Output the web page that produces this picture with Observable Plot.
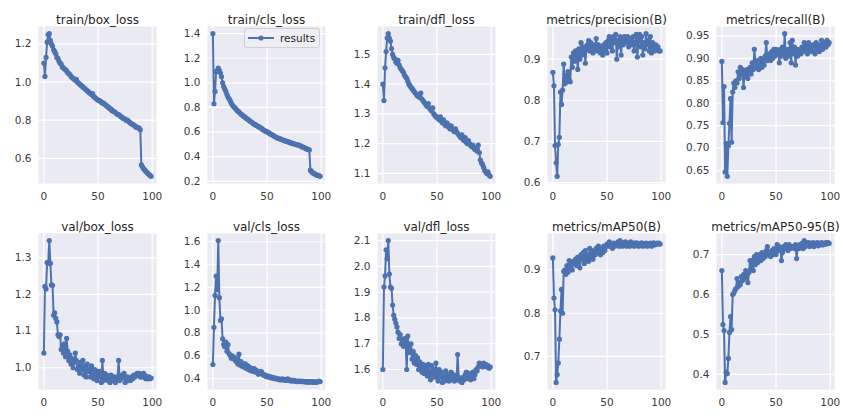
<!DOCTYPE html>
<html><head><meta charset="utf-8">
<script src="https://cdn.jsdelivr.net/npm/d3@7"></script>
<script src="https://cdn.jsdelivr.net/npm/@observablehq/plot@0.6"></script>
<style>
html,body{margin:0;padding:0;background:#fff;}
#chart{position:relative;width:843px;height:417px;overflow:hidden;font-family:"DejaVu Sans",sans-serif;}
#chart .cell{position:absolute;}
#chart .legend{position:absolute;box-sizing:border-box;background:rgba(238,238,245,0.85);border:1px solid #cfcfd6;border-radius:3px;display:flex;align-items:center;font-size:10.5px;color:#262626;}
</style></head><body><div id="chart"></div>
<script>
const titles = ["train/box_loss","train/cls_loss","train/dfl_loss","metrics/precision(B)","metrics/recall(B)",
  "val/box_loss","val/cls_loss","val/dfl_loss","metrics/mAP50(B)","metrics/mAP50-95(B)"];
const xTicks = [0, 50, 100];
const legendLabel = "results";

const trainBoxLoss = [1.10,1.03,1.13,1.21,1.25,1.255,1.22,1.20,1.19,1.17,
1.16,1.15,1.13,1.125,1.11,1.10,1.095,1.08,1.075,1.07,
1.065,1.06,1.05,1.045,1.04,1.03,1.025,1.02,1.015,1.01,
1.015,1.00,0.995,0.99,0.985,0.98,0.975,0.97,0.965,0.96,
0.955,0.95,0.945,0.94,0.935,0.94,0.925,0.92,0.915,0.91,
0.905,0.905,0.90,0.895,0.89,0.89,0.885,0.88,0.875,0.87,
0.868,0.86,0.858,0.85,0.848,0.845,0.84,0.835,0.83,0.83,
0.825,0.82,0.815,0.81,0.81,0.805,0.80,0.80,0.795,0.79,
0.785,0.78,0.778,0.775,0.77,0.765,0.762,0.76,0.758,0.75,
0.565,0.555,0.545,0.54,0.532,0.527,0.52,0.515,0.51,0.505];

const trainClsLoss = [1.40,0.83,0.93,1.09,1.10,1.12,1.10,1.08,1.05,1.00,
0.97,0.95,0.93,0.905,0.885,0.87,0.855,0.835,0.82,0.81,
0.80,0.79,0.78,0.77,0.765,0.755,0.745,0.74,0.73,0.725,
0.72,0.71,0.705,0.70,0.69,0.685,0.68,0.672,0.665,0.66,
0.655,0.65,0.645,0.64,0.635,0.63,0.62,0.615,0.61,0.605,
0.60,0.60,0.59,0.585,0.58,0.578,0.57,0.565,0.56,0.555,
0.55,0.548,0.545,0.54,0.537,0.535,0.53,0.528,0.525,0.522,
0.52,0.515,0.512,0.51,0.505,0.505,0.50,0.498,0.495,0.497,
0.49,0.488,0.48,0.478,0.475,0.47,0.465,0.462,0.46,0.455,
0.29,0.28,0.27,0.265,0.26,0.255,0.25,0.248,0.245,0.24];

const trainDflLoss = [1.40,1.345,1.455,1.51,1.555,1.57,1.555,1.545,1.52,1.50,
1.49,1.485,1.475,1.47,1.48,1.465,1.455,1.45,1.445,1.44,
1.43,1.425,1.42,1.41,1.40,1.395,1.39,1.385,1.38,1.375,
1.37,1.365,1.36,1.365,1.355,1.37,1.35,1.345,1.34,1.335,
1.33,1.325,1.335,1.32,1.315,1.31,1.32,1.30,1.295,1.29,
1.29,1.285,1.28,1.29,1.275,1.27,1.28,1.265,1.26,1.27,
1.265,1.255,1.25,1.26,1.25,1.245,1.24,1.25,1.24,1.235,
1.23,1.225,1.22,1.23,1.215,1.21,1.22,1.205,1.20,1.21,
1.20,1.195,1.19,1.195,1.185,1.18,1.185,1.175,1.195,1.17,
1.145,1.135,1.13,1.12,1.11,1.105,1.10,1.105,1.095,1.09];

const precision = [0.868,0.835,0.69,0.648,0.615,0.693,0.71,0.82,0.79,0.825,
0.888,0.84,0.86,0.845,0.87,0.85,0.845,0.905,0.88,0.915,
0.895,0.92,0.91,0.875,0.925,0.90,0.94,0.92,0.91,0.93,
0.89,0.925,0.935,0.945,0.92,0.94,0.93,0.915,0.935,0.925,
0.95,0.92,0.935,0.925,0.915,0.93,0.91,0.935,0.92,0.94,
0.915,0.945,0.955,0.93,0.945,0.92,0.955,0.94,0.96,0.90,
0.945,0.93,0.955,0.91,0.95,0.935,0.955,0.94,0.95,0.955,
0.93,0.95,0.945,0.935,0.955,0.92,0.94,0.96,0.905,0.95,
0.96,0.93,0.955,0.91,0.94,0.925,0.962,0.935,0.945,0.92,
0.955,0.915,0.94,0.93,0.92,0.935,0.925,0.93,0.92,0.92];

const recall = [0.893,0.757,0.837,0.647,0.71,0.637,0.705,0.755,0.81,0.713,
0.825,0.845,0.835,0.85,0.845,0.87,0.855,0.88,0.865,0.875,
0.835,0.87,0.86,0.875,0.855,0.87,0.88,0.865,0.89,0.875,
0.92,0.89,0.88,0.895,0.875,0.885,0.90,0.88,0.895,0.885,
0.905,0.935,0.895,0.90,0.91,0.895,0.915,0.90,0.92,0.905,
0.92,0.91,0.915,0.89,0.92,0.905,0.925,0.91,0.955,0.90,
0.915,0.92,0.905,0.935,0.89,0.94,0.91,0.925,0.885,0.92,
0.905,0.915,0.92,0.91,0.925,0.915,0.935,0.92,0.93,0.91,
0.935,0.92,0.925,0.915,0.93,0.925,0.91,0.935,0.92,0.93,
0.915,0.925,0.94,0.92,0.935,0.93,0.925,0.94,0.93,0.935];

const valBoxLoss = [1.04,1.222,1.215,1.287,1.285,1.347,1.285,1.226,1.225,1.143,
1.15,1.135,1.125,1.09,1.085,1.09,1.05,1.06,1.04,1.065,
1.03,1.08,1.045,1.02,1.035,1.01,1.025,1.00,1.015,1.04,
1.02,0.995,1.005,0.985,1.015,0.995,1.02,0.98,1.005,0.975,
1.01,0.99,0.995,0.975,1.005,0.98,0.97,0.995,0.98,0.965,
0.99,0.975,0.99,0.96,1.02,0.965,0.985,0.97,0.98,0.965,
0.975,0.96,0.98,0.97,0.965,0.975,0.96,0.97,0.975,1.02,
0.965,0.97,0.98,0.975,0.985,0.96,0.97,0.975,0.965,0.97,
0.965,0.975,0.97,0.98,0.975,0.98,0.985,0.98,0.985,0.975,
0.98,0.975,0.985,0.98,0.97,0.975,0.97,0.975,0.97,0.972];

const valClsLoss = [0.525,0.85,1.13,1.30,1.18,1.61,1.11,0.91,0.925,0.75,
0.70,0.68,0.72,0.64,0.70,0.62,0.605,0.58,0.60,0.575,
0.585,0.555,0.57,0.53,0.615,0.52,0.55,0.51,0.53,0.50,
0.53,0.49,0.515,0.48,0.50,0.47,0.49,0.465,0.49,0.46,
0.475,0.455,0.44,0.45,0.465,0.46,0.44,0.43,0.435,0.42,
0.425,0.415,0.42,0.41,0.415,0.405,0.41,0.40,0.405,0.40,
0.395,0.40,0.39,0.395,0.40,0.39,0.395,0.385,0.39,0.40,
0.385,0.39,0.38,0.385,0.38,0.385,0.38,0.375,0.38,0.375,
0.38,0.375,0.38,0.375,0.378,0.372,0.375,0.37,0.375,0.37,
0.375,0.372,0.37,0.375,0.368,0.372,0.37,0.375,0.38,0.375];

const valDflLoss = [1.60,1.92,1.963,2.064,2.03,2.10,1.97,1.92,1.915,1.85,
1.81,1.795,1.78,1.765,1.745,1.72,1.735,1.70,1.715,1.69,
1.72,1.705,1.60,1.73,1.68,1.665,1.70,1.64,1.67,1.625,
1.655,1.62,1.645,1.60,1.63,1.61,1.59,1.62,1.585,1.615,
1.60,1.575,1.62,1.59,1.56,1.615,1.58,1.60,1.57,1.625,
1.58,1.555,1.60,1.57,1.59,1.55,1.575,1.555,1.595,1.565,
1.58,1.555,1.57,1.59,1.56,1.58,1.555,1.575,1.56,1.658,
1.57,1.555,1.565,1.55,1.57,1.56,1.58,1.59,1.565,1.585,
1.57,1.56,1.58,1.59,1.565,1.58,1.60,1.595,1.61,1.625,
1.615,1.62,1.61,1.625,1.615,1.62,1.61,1.615,1.605,1.61];

const mAP50 = [0.928,0.835,0.808,0.64,0.658,0.685,0.74,0.805,0.855,0.80,
0.897,0.90,0.89,0.91,0.895,0.922,0.905,0.915,0.90,0.92,
0.915,0.925,0.91,0.93,0.92,0.905,0.935,0.925,0.94,0.915,
0.945,0.925,0.935,0.92,0.95,0.93,0.945,0.925,0.94,0.935,
0.95,0.94,0.955,0.945,0.935,0.95,0.94,0.955,0.945,0.955,
0.96,0.955,0.965,0.955,0.96,0.95,0.962,0.955,0.96,0.958,
0.965,0.955,0.968,0.96,0.955,0.963,0.958,0.965,0.955,0.96,
0.962,0.955,0.965,0.958,0.96,0.955,0.963,0.958,0.962,0.955,
0.96,0.958,0.963,0.955,0.96,0.958,0.962,0.955,0.96,0.958,
0.962,0.955,0.96,0.963,0.958,0.96,0.962,0.96,0.962,0.96];

const mAP5095 = [0.66,0.525,0.51,0.38,0.405,0.402,0.44,0.505,0.545,0.512,
0.60,0.603,0.61,0.615,0.64,0.62,0.63,0.625,0.645,0.635,
0.65,0.64,0.66,0.645,0.63,0.655,0.685,0.665,0.685,0.66,
0.695,0.675,0.70,0.68,0.69,0.70,0.685,0.705,0.69,0.70,
0.695,0.71,0.72,0.70,0.705,0.695,0.71,0.70,0.715,0.705,
0.70,0.725,0.71,0.72,0.715,0.685,0.705,0.72,0.715,0.725,
0.72,0.71,0.725,0.715,0.72,0.72,0.72,0.715,0.725,0.69,
0.72,0.715,0.725,0.72,0.728,0.715,0.735,0.72,0.73,0.725,
0.73,0.72,0.728,0.725,0.73,0.72,0.728,0.725,0.73,0.722,
0.728,0.725,0.73,0.724,0.728,0.726,0.73,0.727,0.73,0.728];

const series = [trainBoxLoss, trainClsLoss, trainDflLoss, precision, recall,
  valBoxLoss, valClsLoss, valDflLoss, mAP50, mAP5095];

const yTicks = [
  [0.6,0.8,1.0,1.2],
  [0.2,0.4,0.6,0.8,1.0,1.2,1.4],
  [1.1,1.2,1.3,1.4,1.5],
  [0.6,0.7,0.8,0.9],
  [0.65,0.70,0.75,0.80,0.85,0.90,0.95],
  [1.0,1.1,1.2,1.3],
  [0.4,0.6,0.8,1.0,1.2,1.4,1.6],
  [1.6,1.7,1.8,1.9,2.0,2.1],
  [0.7,0.8,0.9],
  [0.4,0.5,0.6,0.7]
];
const yDecimals = [1,1,1,1,2,1,1,1,1,1];

// ---- layout (pixels) ----
const colX = [0,170,340,510,680], colW = [170,170,170,170,163];
const rowY = [0,208], rowH = [208,209];
const frameLeft = [38,207,377,547,716], frameW = 118;
const frameTop = [26,233], frameBottom = [183,389];

const BLUE = "#4C72B0";
const chart = document.getElementById("chart");

series.forEach((vals, i) => {
  const r = Math.floor(i / 5), c = i % 5;
  const lo = d3.min(vals), hi = d3.max(vals), pad = (hi - lo) * 0.05;
  const fmt = d3.format("." + yDecimals[i] + "f");
  const svg = Plot.plot({
    width: colW[c], height: rowH[r],
    marginLeft: frameLeft[c] - colX[c],
    marginRight: colX[c] + colW[c] - (frameLeft[c] + frameW),
    marginTop: frameTop[r] - rowY[r],
    marginBottom: rowY[r] + rowH[r] - frameBottom[r],
    style: {fontFamily: "'DejaVu Sans', sans-serif", fontSize: "10.5px", color: "#3a3a3a", background: "transparent", overflow: "visible"},
    x: {domain: [-4.95, 103.95]},
    y: {domain: [lo - pad, hi + pad]},
    marks: [
      Plot.frame({fill: "#EAEAF2", stroke: null}),
      Plot.gridX(xTicks, {stroke: "#ffffff", strokeOpacity: 1, strokeWidth: 1.2}),
      Plot.gridY(yTicks[i], {stroke: "#ffffff", strokeOpacity: 1, strokeWidth: 1.2}),
      Plot.axisX(xTicks, {tickSize: 0, tickPadding: 9, label: null}),
      Plot.axisY(yTicks[i], {tickSize: 0, tickPadding: 7, label: null, tickFormat: fmt}),
      Plot.line(vals, {x: (d, j) => j, y: d => d, stroke: BLUE, strokeWidth: 2}),
      Plot.dot(vals, {x: (d, j) => j, y: d => d, fill: BLUE, stroke: null, r: 2.6}),
      Plot.text([titles[i]], {frameAnchor: "top", dy: -11, fontSize: 12, fill: "#262626"})
    ]
  });
  const cell = document.createElement("div");
  cell.className = "cell";
  cell.style.left = colX[c] + "px";
  cell.style.top = rowY[r] + "px";
  cell.appendChild(svg);
  chart.appendChild(cell);
});

// legend (train/cls_loss panel)
const lg = document.createElement("div");
lg.className = "legend";
lg.style.left = "244px"; lg.style.top = "28px"; lg.style.width = "76px"; lg.style.height = "20px";
lg.innerHTML = `<svg width="34" height="20" style="flex:none"><line x1="3" y1="10" x2="29" y2="10" stroke="${BLUE}" stroke-width="2"/><circle cx="16" cy="10" r="2.6" fill="${BLUE}"/></svg><span style="margin-left:1px">${legendLabel}</span>`;
chart.appendChild(lg);
</script>
</body></html>
